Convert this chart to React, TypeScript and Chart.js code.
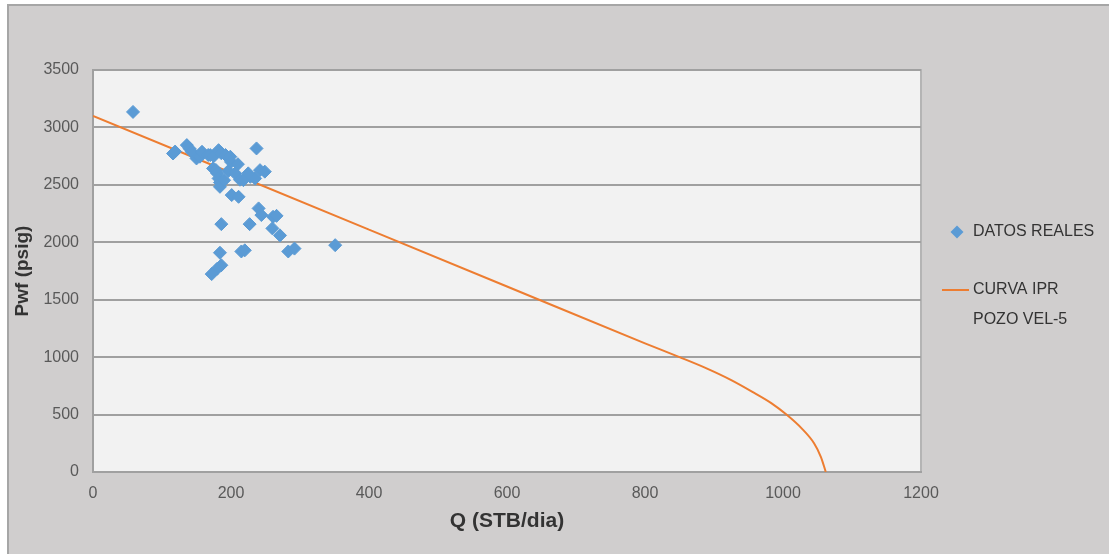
import React, { useEffect, useRef } from "react";
import { Chart, registerables } from "chart.js";

Chart.register(...registerables);

// Measured data (DATOS REALES)
const qReal = [58, 116, 119, 136, 140, 143, 150, 155, 158, 167, 170, 175, 182, 186, 192, 199, 174, 178, 180, 182, 184, 184, 190, 196, 201, 211, 206, 213, 218, 228, 235, 237, 242, 249, 240, 244, 261, 266, 260, 271, 186, 227, 283, 292, 351, 184, 215, 220, 186, 180, 172, 200, 210, 225];
const pwfReal = [3135, 2773, 2790, 2846, 2815, 2788, 2730, 2745, 2788, 2760, 2759, 2750, 2802, 2775, 2760, 2745, 2643, 2630, 2600, 2556, 2520, 2483, 2540, 2620, 2411, 2396, 2600, 2545, 2541, 2570, 2556, 2817, 2628, 2615, 2295, 2237, 2222, 2230, 2121, 2060, 2158, 2158, 1920, 1945, 1975, 1909, 1920, 1930, 1800, 1770, 1723, 2700, 2680, 2600];

// IPR curve (CURVA IPR POZO VEL-5)
const qIpr = [0, 200, 400, 600, 800, 850, 890, 925, 955, 983, 1005, 1027, 1045, 1055, 1062];
const pwfIpr = [3100, 2605, 2110, 1615, 1120, 1000, 900, 800, 700, 600, 500, 380, 250, 130, 0];

const xTicks = [0, 200, 400, 600, 800, 1000, 1200];
const yTicks = [0, 500, 1000, 1500, 2000, 2500, 3000, 3500];

const seriesNames = ["DATOS REALES", "CURVA IPR", "POZO VEL-5"];
const xTitle = "Q (STB/dia)";
const yTitle = "Pwf (psig)";

const BLUE = "#5b9bd5";
const ORANGE = "#ed7d31";
const FONT = "'Liberation Sans', Arial, sans-serif";

export default function App() {
  const ref = useRef<HTMLCanvasElement | null>(null);

  useEffect(() => {
    if (!ref.current) return;

    const framePlugin = {
      id: "frame",
      beforeDraw(chart: any) {
        const { ctx, width, height, chartArea } = chart;
        ctx.save();
        ctx.fillStyle = "#d0cece";
        ctx.fillRect(0, 0, width, height);
        ctx.fillStyle = "#ffffff";
        ctx.fillRect(0, 0, 7, height);
        ctx.fillRect(0, 0, width, 4);
        ctx.strokeStyle = "#a6a6a6";
        ctx.lineWidth = 2;
        ctx.beginPath();
        ctx.moveTo(8, height + 5);
        ctx.lineTo(8, 5);
        ctx.lineTo(width + 5, 5);
        ctx.stroke();
        ctx.fillStyle = "#f2f2f2";
        ctx.fillRect(chartArea.left, chartArea.top, chartArea.right - chartArea.left, chartArea.bottom - chartArea.top);
        ctx.strokeStyle = "#b4b4b4";
        ctx.lineWidth = 2;
        ctx.strokeRect(chartArea.left, chartArea.top, chartArea.right - chartArea.left, chartArea.bottom - chartArea.top);
        ctx.restore();
      },
      afterDraw(chart: any) {
        const { ctx } = chart;
        ctx.save();
        const dx = 957, dy = 232, r = 6.5;
        ctx.fillStyle = BLUE;
        ctx.beginPath();
        ctx.moveTo(dx, dy - r);
        ctx.lineTo(dx + r, dy);
        ctx.lineTo(dx, dy + r);
        ctx.lineTo(dx - r, dy);
        ctx.closePath();
        ctx.fill();
        ctx.strokeStyle = ORANGE;
        ctx.lineWidth = 2;
        ctx.beginPath();
        ctx.moveTo(942, 290);
        ctx.lineTo(969, 290);
        ctx.stroke();
        ctx.fillStyle = "#333333";
        ctx.font = `16px ${FONT}`;
        ctx.textBaseline = "middle";
        ctx.textAlign = "left";
        ctx.fillText(seriesNames[0], 973, 232);
        ctx.fillText(seriesNames[1], 973, 290);
        ctx.fillText(seriesNames[2], 973, 320);
        ctx.restore();
      },
    };

    const chart = new Chart(ref.current, {
      type: "scatter",
      data: {
        datasets: [
          {
            label: seriesNames[0],
            data: qReal.map((q, i) => ({ x: q, y: pwfReal[i] })),
            backgroundColor: BLUE,
            borderColor: BLUE,
            pointStyle: "rectRot",
            pointRadius: 6.5,
            pointBorderWidth: 1,
            showLine: false,
          },
          {
            label: seriesNames[1] + " " + seriesNames[2],
            data: qIpr.map((q, i) => ({ x: q, y: pwfIpr[i] })),
            borderColor: ORANGE,
            backgroundColor: ORANGE,
            borderWidth: 2,
            pointRadius: 0,
            showLine: true,
            cubicInterpolationMode: "monotone",
          },
        ],
      },
      options: {
        animation: false,
        responsive: false,
        maintainAspectRatio: false,
        layout: { padding: { left: 0, top: 70, right: 188, bottom: 0 } },
        plugins: { legend: { display: false }, tooltip: { enabled: false } },
        scales: {
          x: {
            type: "linear",
            min: 0,
            max: 1200,
            afterFit: (s: any) => { s.height = 82; },
            afterBuildTicks: (s: any) => { s.ticks = xTicks.map((v) => ({ value: v })); },
            grid: { display: false, drawTicks: false },
            border: { display: true, color: "#a0a0a0", width: 2 },
            ticks: { padding: 12, color: "#595959", font: { family: FONT, size: 16 }, maxRotation: 0, callback: (v: any) => String(v) },
            title: { display: true, text: xTitle, color: "#333333", font: { family: FONT, size: 21, weight: "bold" }, padding: { bottom: 20 } },
          },
          y: {
            type: "linear",
            min: 0,
            max: 3500,
            afterFit: (s: any) => { s.width = 93; },
            afterBuildTicks: (s: any) => { s.ticks = yTicks.map((v) => ({ value: v })); },
            grid: { color: "#a0a0a0", lineWidth: 2, drawTicks: false },
            border: { display: true, color: "#a0a0a0", width: 2 },
            ticks: { padding: 14, color: "#595959", font: { family: FONT, size: 16 }, callback: (v: any) => String(v) },
            title: { display: true, text: yTitle, color: "#333333", font: { family: FONT, size: 19, weight: "bold" }, padding: { top: 11 } },
          },
        },
      },
      plugins: [framePlugin],
    } as any);

    return () => chart.destroy();
  }, []);

  return (
    <div style={{ position: "absolute", left: 0, top: 0, width: 1109, height: 554 }}>
      <canvas ref={ref} width={1109} height={554} style={{ width: 1109, height: 554, display: "block" }} />
    </div>
  );
}
